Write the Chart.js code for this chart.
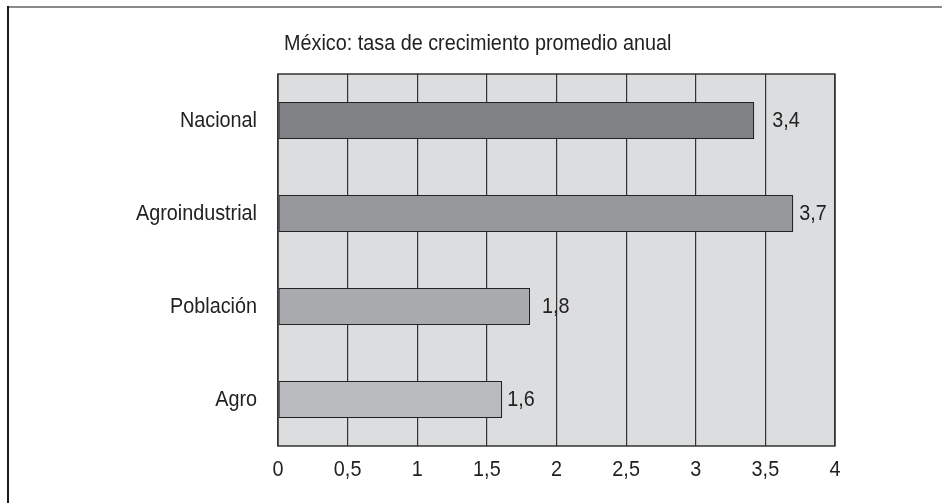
<!DOCTYPE html>
<html>
<head>
<meta charset="utf-8">
<script src="https://cdn.jsdelivr.net/npm/chart.js@4"></script>
<style>
  html, body { margin: 0; padding: 0; background: #fff; }
  #wrap { width: 942px; height: 503px; position: relative; }
</style>
</head>
<body>
<div id="wrap"><canvas id="chart" width="942" height="503"></canvas></div>
<script>
var categories = ['Nacional', 'Agroindustrial', 'Población', 'Agro'];
var values = [3.42, 3.70, 1.81, 1.61];
var valueLabels = ['3,4', '3,7', '1,8', '1,6'];
var tickValues = [0, 0.5, 1, 1.5, 2, 2.5, 3, 3.5, 4];
var tickLabels = ['0', '0,5', '1', '1,5', '2', '2,5', '3', '3,5', '4'];
var barColors = ['#808184', '#97989b', '#a9aaad', '#b9babd'];
var titleText = 'México: tasa de crecimiento promedio anual';

var FONT = '22px "Liberation Sans", Arial, sans-serif';
var SQUEEZE = 0.9;           // letra condensada
var LABEL_GAP = [18, 6, 12, 5];

// texto angosto (la fuente condensada no esta instalada)
function narrowText(ctx, text, x, y, align) {
    ctx.save();
    ctx.translate(x, y);
    ctx.scale(SQUEEZE, 1);
    ctx.font = FONT;
    ctx.fillStyle = '#222';
    ctx.textAlign = align;
    ctx.textBaseline = 'middle';
    ctx.fillText(text, 0, 0);
    ctx.restore();
}

var framePlugin = {
    id: 'framePlugin',
    beforeDraw: function(chart) {
        var ctx = chart.ctx;
        var a = chart.chartArea;
        ctx.save();
        ctx.fillStyle = '#fff';
        ctx.fillRect(0, 0, chart.width, chart.height);
        ctx.fillStyle = '#dcdddf';
        ctx.fillRect(a.left, a.top, a.right - a.left, a.bottom - a.top);
        // marco exterior
        ctx.fillStyle = '#8a8a8a';
        ctx.fillRect(7, 6, chart.width - 7, 2);
        ctx.fillStyle = '#1a1a1a';
        ctx.fillRect(7, 6, 2, chart.height - 6);
        ctx.restore();
    },
    afterDraw: function(chart) {
        var ctx = chart.ctx;
        var a = chart.chartArea;
        var xs = chart.scales.x, ys = chart.scales.y;
        ctx.save();
        ctx.strokeStyle = '#333';
        ctx.lineWidth = 1.5;
        ctx.strokeRect(a.left, a.top, a.right - a.left, a.bottom - a.top);
        ctx.restore();

        narrowText(ctx, titleText, a.left + 6, 44, 'left');

        tickValues.forEach(function(v, i) {
            narrowText(ctx, tickLabels[i], xs.getPixelForValue(v), a.bottom + 24, 'center');
        });
        categories.forEach(function(c, i) {
            narrowText(ctx, c, a.left - 21, ys.getPixelForValue(i), 'right');
        });

        // etiquetas de valor
        var meta = chart.getDatasetMeta(0);
        meta.data.forEach(function(bar, i) {
            narrowText(ctx, valueLabels[i], bar.x + LABEL_GAP[i], bar.y, 'left');
        });
    }
};

new Chart(document.getElementById('chart'), {
    type: 'bar',
    data: {
        labels: categories,
        datasets: [{
            data: values,
            backgroundColor: barColors,
            borderColor: '#222',
            borderWidth: 1.2,
            borderSkipped: false,
            categoryPercentage: 1,
            barPercentage: 0.4
        }]
    },
    options: {
        indexAxis: 'y',
        responsive: false,
        animation: false,
        layout: { padding: { top: 74, right: 107, left: 0, bottom: 0 } },
        plugins: {
            legend: { display: false },
            tooltip: { enabled: false }
        },
        scales: {
            x: {
                min: 0,
                max: 4,
                ticks: { stepSize: 0.5, display: false },
                grid: { color: '#333', lineWidth: 1.2, drawTicks: false },
                border: { display: false },
                afterFit: function(s) { s.height = 57; }
            },
            y: {
                ticks: { display: false },
                grid: { display: false, drawTicks: false },
                border: { display: false },
                afterFit: function(s) { s.width = 278; }
            }
        }
    },
    plugins: [framePlugin]
});
</script>
</body>
</html>
